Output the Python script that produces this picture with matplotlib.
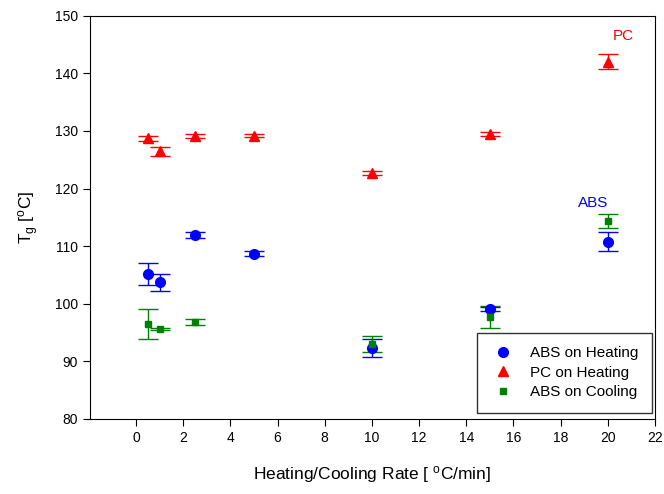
import matplotlib
matplotlib.use("Agg")
import matplotlib.pyplot as plt

plt.rcParams["font.family"] = ["Liberation Sans", "DejaVu Sans"]
plt.rcParams["mathtext.default"] = "regular"

# data
rate = [0.5, 1, 2.5, 5, 10, 15, 20]
abs_heat = [105.1, 103.7, 112.0, 108.7, 92.3, 99.1, 110.8]
abs_heat_err = [1.9, 1.5, 0.5, 0.4, 1.6, 0.4, 1.6]
pc_heat = [128.7, 126.5, 129.1, 129.2, 122.7, 129.5, 142.0]
pc_heat_err = [0.5, 0.8, 0.4, 0.3, 0.4, 0.3, 1.3]
cool_rate = [0.5, 1, 2.5, 10, 15, 20]
abs_cool = [96.4, 95.6, 96.8, 93.0, 97.7, 114.4]
abs_cool_err = [2.6, 0.2, 0.5, 1.4, 1.9, 1.2]

fig = plt.figure(figsize=(6.64, 4.94), dpi=100)
ax = fig.add_axes([0.1355, 0.152, 0.851, 0.816])

ax.errorbar(rate, abs_heat, yerr=abs_heat_err, fmt="o", color="blue",
            markersize=7, capsize=7.5, elinewidth=1, label="ABS on Heating")
ax.errorbar(rate, pc_heat, yerr=pc_heat_err, fmt="^", color="red",
            markersize=7, capsize=7.5, elinewidth=1, label="PC on Heating")
ax.errorbar(cool_rate, abs_cool, yerr=abs_cool_err, fmt="s", color="green",
            markersize=5, capsize=7.5, elinewidth=1, label="ABS on Cooling")

ax.text(20.64, 146.5, "PC", color="red", fontsize=11, ha="center", va="center")
ax.text(19.36, 117.5, "ABS", color="blue", fontsize=11, ha="center", va="center")

ax.set_xlim(-1.95, 22)
ax.set_ylim(80, 150)
ax.set_xticks(range(0, 23, 2))
ax.set_yticks(range(80, 151, 10))
ax.tick_params(direction="out", length=5, labelsize=10)

ax.set_xlabel("Heating/Cooling Rate [ $^{o}$C/min]", fontsize=12.5, labelpad=14)
ax.set_ylabel("T$_{g}$ [$^{o}$C]", fontsize=12.5, labelpad=10)

handles, labels = ax.get_legend_handles_labels()
handles = [h[0] for h in handles]
leg = ax.legend(handles, labels, loc="lower right", fontsize=11,
                frameon=True, fancybox=False, edgecolor="black",
                borderpad=0.9, handlelength=1.6, handletextpad=1.0,
                labelspacing=0.35, borderaxespad=0,
                bbox_to_anchor=(0.995, 0.015))
leg.get_frame().set_linewidth(1)

fig.savefig("out.png", dpi=100)
